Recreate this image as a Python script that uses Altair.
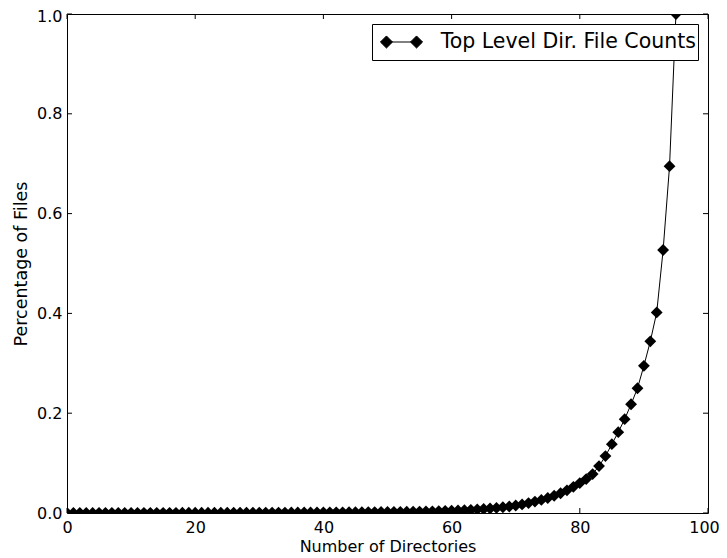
import altair as alt
import pandas as pd

# Number of directories (x) and percentage of files (y)
dirs = list(range(0, 96))
pct = [
    0.0002, 0.0002, 0.0002, 0.0002, 0.0002, 0.0003, 0.0003, 0.0003, 0.0003, 0.0003,
    0.0003, 0.0003, 0.0004, 0.0004, 0.0004, 0.0004, 0.0004, 0.0004, 0.0005, 0.0005,
    0.0005, 0.0005, 0.0005, 0.0006, 0.0006, 0.0006, 0.0006, 0.0007, 0.0007, 0.0007,
    0.0008, 0.0008, 0.0008, 0.0009, 0.0009, 0.0010, 0.0010, 0.0011, 0.0011, 0.0012,
    0.0012, 0.0013, 0.0014, 0.0014, 0.0015, 0.0016, 0.0017, 0.0018, 0.0019, 0.0020,
    0.0021, 0.0022, 0.0024, 0.0025, 0.0027, 0.0029, 0.0031, 0.0034, 0.0037, 0.0041,
    0.0045, 0.0050, 0.0056, 0.0063, 0.0071, 0.0080, 0.0090, 0.0102, 0.0115, 0.0130,
    0.0150, 0.0172, 0.0198, 0.0228, 0.0262, 0.0300, 0.0345, 0.0395, 0.0455, 0.0525,
    0.0600, 0.0680, 0.0780, 0.0940, 0.1140, 0.1380, 0.1620, 0.1880, 0.2180, 0.2500,
    0.2950, 0.3440, 0.4020, 0.5270, 0.6950, 1.0000,
]
series_name = "Top Level Dir. File Counts"

x_ticks = [0, 20, 40, 60, 80, 100]
y_ticks = [0.0, 0.2, 0.4, 0.6, 0.8, 1.0]

W, H = 641, 499
FONT = "DejaVu Sans"

df = pd.DataFrame({"x": dirs, "y": pct, "series": series_name})
xt = pd.DataFrame({"t": x_ticks})
yt = pd.DataFrame({"t": y_ticks})

xscale = alt.Scale(domain=[0, 100], nice=False, zero=False)
yscale = alt.Scale(domain=[0, 1], nice=False, zero=False)

# legend glyph: a short line with a diamond at each end
# (the two zero-length subpaths only widen the glyph's box vertically)
legend_symbol = (
    "M-0.97,0L0.97,0"
    "M-1.36,0L-0.97,-0.39L-0.58,0L-0.97,0.39Z"
    "M0.58,0L0.97,-0.39L1.36,0L0.97,0.39Z"
    "M0,-0.85L0,-0.85M0,0.85L0,0.85"
)

color = alt.Color(
    "series:N",
    scale=alt.Scale(range=["black"]),
    legend=alt.Legend(
        title=None,
        orient="top-right",
        offset=10,
        strokeColor="black",
        fillColor="white",
        padding=2,
        cornerRadius=0,
        symbolType=legend_symbol,
        symbolSize=961,
        symbolOffset=11.5,
        symbolFillColor="black",
        symbolStrokeColor="black",
        symbolStrokeWidth=1,
        labelFont=FONT,
        labelFontSize=20.5,
        labelColor="black",
        labelOffset=23.2,
        labelLimit=800,
    ),
)

x_axis = alt.Axis(
    values=x_ticks, tickSize=0, domain=False, grid=False, labelFlush=False,
    labelOffset={"condition": {"test": "datum.value === 100", "value": -4}, "value": 0},
    labelFont=FONT, labelFontSize=16, labelColor="black", labelPadding=6,
    title="Number of Directories", titleFont=FONT, titleFontSize=16,
    titleFontWeight="normal", titleColor="black", titlePadding=3,
)
y_axis = alt.Axis(
    values=y_ticks, tickSize=0, domain=False, grid=False, labelFlush=False,
    labelOffset={"condition": {"test": "datum.value === 1", "value": 2}, "value": 0},
    format=".1f",
    labelFont=FONT, labelFontSize=16, labelColor="black", labelPadding=5,
    title="Percentage of Files", titleFont=FONT, titleFontSize=17.5,
    titleFontWeight="normal", titleColor="black", titlePadding=6,
)

line = alt.Chart(df).mark_line(strokeWidth=1, clip=True).encode(
    x=alt.X("x:Q", scale=xscale, axis=x_axis),
    y=alt.Y("y:Q", scale=yscale, axis=y_axis),
    color=color,
)
points = alt.Chart(df).mark_point(
    shape="diamond", filled=True, size=140, opacity=1, clip=True
).encode(
    x=alt.X("x:Q", scale=xscale),
    y=alt.Y("y:Q", scale=yscale),
    color=color,
)

tick_len = 5
xt_bottom = alt.Chart(xt).mark_rule(color="black", strokeWidth=1).encode(
    x=alt.X("t:Q", scale=xscale), y=alt.value(H), y2=alt.value(H - tick_len)
)
xt_top = alt.Chart(xt).mark_rule(color="black", strokeWidth=1).encode(
    x=alt.X("t:Q", scale=xscale), y=alt.value(0), y2=alt.value(tick_len)
)
yt_left = alt.Chart(yt).mark_rule(color="black", strokeWidth=1).encode(
    y=alt.Y("t:Q", scale=yscale), x=alt.value(0), x2=alt.value(tick_len)
)
yt_right = alt.Chart(yt).mark_rule(color="black", strokeWidth=1).encode(
    y=alt.Y("t:Q", scale=yscale), x=alt.value(W), x2=alt.value(W - tick_len)
)

chart = (
    alt.layer(xt_bottom, xt_top, yt_left, yt_right, line, points)
    .properties(
        width=W,
        height=H,
        autosize=alt.AutoSizeParams(type="none"),
        padding={"left": 59, "top": 6, "right": 11, "bottom": 45},
        background="white",
    )
    .configure_view(stroke="black", strokeWidth=1)
)

chart.save("out.html", embed_options={"renderer": "svg", "actions": False})
